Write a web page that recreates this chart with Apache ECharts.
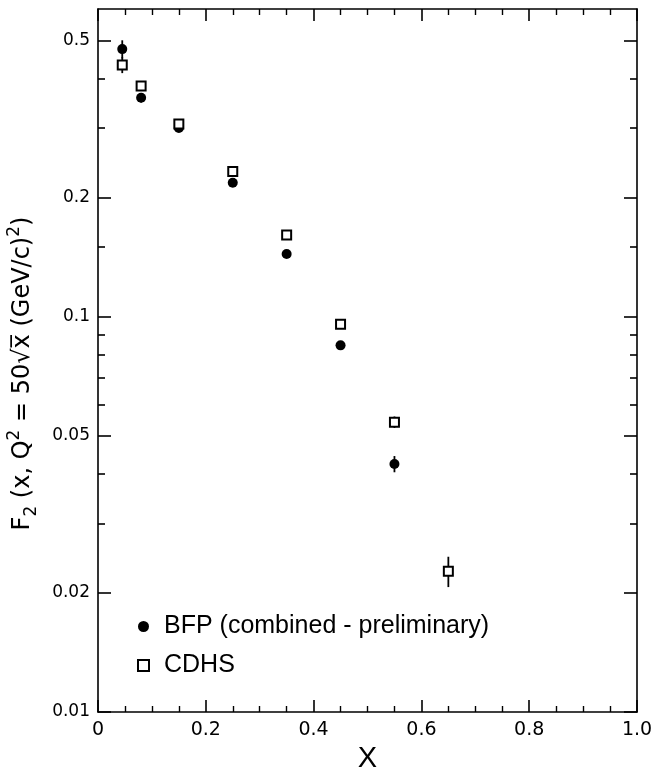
<!DOCTYPE html>
<html>
<head>
<meta charset="utf-8">
<script src="https://cdn.jsdelivr.net/npm/echarts@6/dist/echarts.min.js"></script>
<style>
html,body{margin:0;padding:0;background:#fff;}
#chart{width:653px;height:770px;}
</style>
</head>
<body>
<div id="chart"></div>
<script>
// ---- data ----
const bfpX   = [0.045, 0.08, 0.15, 0.25, 0.35, 0.45, 0.55];
const bfpY   = [0.475, 0.358, 0.300, 0.218, 0.144, 0.0846, 0.0424];
const bfpErr = [0.025, 0.010, 0.005, 0.004, 0.003, 0.002, 0.002];

const cdhsX   = [0.045, 0.08, 0.15, 0.25, 0.35, 0.45, 0.55, 0.65];
const cdhsY   = [0.433, 0.383, 0.307, 0.233, 0.161, 0.0957, 0.0541, 0.0227];
const cdhsErr = [0.020, 0.010, 0.005, 0.004, 0.003, 0.002, 0.0018, 0.002];

const yMajorTicks = [0.01, 0.02, 0.05, 0.1, 0.2, 0.5];
const yMinorTicks = [0.03, 0.04, 0.06, 0.07, 0.08, 0.09, 0.15, 0.3, 0.4];
const xTickLabels = ['0', '0.2', '0.4', '0.6', '0.8', '1.0'];

const bfpName = 'BFP (combined - preliminary)';
const cdhsName = 'CDHS';

// ---- chart ----
const FONT = 'DejaVu Sans';
const FONT2 = 'Liberation Sans';
const chart = echarts.init(document.getElementById('chart'));

function yAxisDef(position, ticks, len, showLine, showLabel) {
  return {
    type: 'log', logBase: 10, min: 0.01, max: 0.6, position: position,
    axisLine: { show: showLine, lineStyle: { color: '#000', width: 1.6 } },
    axisTick: { show: true, inside: true, length: len, customValues: ticks,
                lineStyle: { color: '#000', width: 1.6 } },
    minorTick: { show: false },
    splitLine: { show: false },
    axisLabel: { show: showLabel, customValues: ticks, color: '#000', fontSize: 17,
                 fontFamily: FONT, margin: 8,
                 formatter: v => String(+(+v).toPrecision(3)) }
  };
}
function xAxisDef(position, showLabel) {
  return {
    type: 'value', min: 0, max: 1, interval: 0.2, position: position,
    axisLine: { show: true, lineStyle: { color: '#000', width: 1.6 } },
    axisTick: { show: true, inside: true, length: 12, lineStyle: { color: '#000', width: 1.6 } },
    minorTick: { show: true, splitNumber: 4, length: 6, lineStyle: { color: '#000', width: 1.4 } },
    splitLine: { show: false }, minorSplitLine: { show: false },
    axisLabel: { show: showLabel, color: '#000', fontSize: 19, fontFamily: FONT, margin: 9,
                 formatter: v => xTickLabels[Math.round(v / 0.2)] }
  };
}

function errSeries(xs, ys, es) {
  return {
    type: 'custom', xAxisIndex: 0, yAxisIndex: 0, silent: true, z: 1,
    data: ys.map((y, i) => [xs[i], y - es[i], y + es[i]]),
    encode: { x: 0, y: [1, 2] },
    renderItem: (params, api) => {
      const lo = api.coord([api.value(0), api.value(1)]);
      const hi = api.coord([api.value(0), api.value(2)]);
      return { type: 'line', shape: { x1: lo[0], y1: lo[1], x2: hi[0], y2: hi[1] },
               style: { stroke: '#000', lineWidth: 1.8 } };
    }
  };
}

const xAx = xAxisDef('bottom', true);
xAx.name = 'X';
xAx.nameLocation = 'middle';
xAx.nameGap = 32;
xAx.nameTextStyle = { color: '#000', fontSize: 29, fontFamily: FONT2 };

const yAx = yAxisDef('left', yMajorTicks, 13, true, true);
yAx.name = '{b|F}{sub|2}{b| (x, Q}{sup|2}{b| = 50√x̅ (GeV/c)}{sup|2}{b|)}';
yAx.nameLocation = 'middle';
yAx.nameRotate = 90;
yAx.nameGap = 58;
yAx.nameTextStyle = {
  color: '#000', fontFamily: FONT, padding: [0, 26, 0, 0],
  rich: {
    b:   { fontSize: 24, fontFamily: FONT, color: '#000', verticalAlign: 'middle', lineHeight: 34 },
    sub: { fontSize: 17, fontFamily: FONT, color: '#000', verticalAlign: 'bottom', lineHeight: 34 },
    sup: { fontSize: 17, fontFamily: FONT, color: '#000', verticalAlign: 'top', lineHeight: 34 }
  }
};

const option = {
  backgroundColor: '#fff',
  animation: false,
  grid: { left: 98, right: 16, top: 9, bottom: 58, outerBoundsMode: 'none', containLabel: false },
  xAxis: [xAx, xAxisDef('top', false)],
  yAxis: [
    yAx,
    yAxisDef('left', yMinorTicks, 7, false, false),
    yAxisDef('right', yMajorTicks, 13, true, false),
    yAxisDef('right', yMinorTicks, 7, false, false)
  ],
  legend: {
    orient: 'vertical', left: 132, top: 609, itemWidth: 11, itemHeight: 11, itemGap: 14,
    textStyle: { color: '#000', fontSize: 25, fontFamily: FONT2, padding: [0, 0, 0, 10] },
    data: [{ name: bfpName, icon: 'circle' }, { name: cdhsName, icon: 'rect' }]
  },
  series: [
    errSeries(bfpX, bfpY, bfpErr),
    errSeries(cdhsX, cdhsY, cdhsErr),
    {
      name: bfpName, type: 'scatter', xAxisIndex: 0, yAxisIndex: 0, z: 3,
      symbol: 'circle', symbolSize: 10,
      itemStyle: { color: '#000', opacity: 1 },
      data: bfpY.map((y, i) => [bfpX[i], y])
    },
    {
      name: cdhsName, type: 'scatter', xAxisIndex: 0, yAxisIndex: 0, z: 3,
      symbol: 'rect', symbolSize: 9,
      itemStyle: { color: '#fff', borderColor: '#000', borderWidth: 2, opacity: 1 },
      data: cdhsY.map((y, i) => [cdhsX[i], y])
    }
  ]
};
chart.setOption(option);
</script>
</body>
</html>
